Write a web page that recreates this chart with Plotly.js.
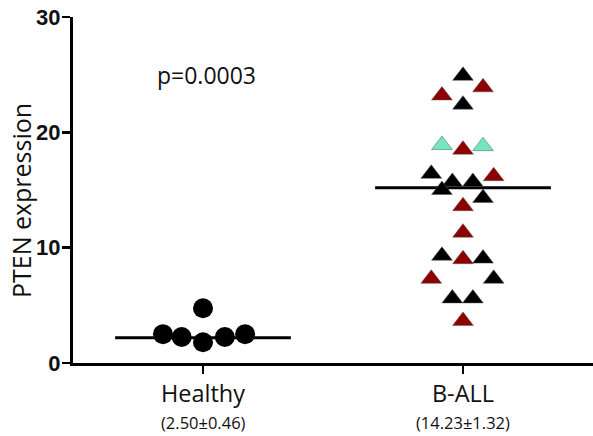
<!DOCTYPE html>
<html>
<head>
<meta charset="utf-8">
<script src="https://cdn.plot.ly/plotly-3.0.1.min.js"></script>
<style>html,body{margin:0;padding:0;background:#fff;}#chart{width:593px;height:436px;}</style>
</head>
<body>
<div id="chart"></div>
<script>
// ---- data ----
const categories = ['Healthy', 'B-ALL'];
const subLabels = ['(2.50±0.46)', '(14.23±1.32)'];
const yTicks = [0, 10, 20, 30];
const yTitle = 'PTEN expression';
const pText = 'p=0.0003';

const healthyValues  = [2.5, 2.25, 4.75, 1.8, 2.25, 2.5];
const healthyJitter  = [-0.154, -0.082, 0, 0, 0.084, 0.162];

const ballBlackValues = [24.9, 22.4, 16.4, 15.7, 15.7, 15.0, 14.3, 9.3, 9.05, 7.3, 5.6, 5.6];
const ballBlackJitter = [0, 0, -0.122, -0.041, 0.038, -0.081, 0.077, -0.081, 0.077, 0.118, -0.041, 0.038];
const ballRedValues   = [23.2, 23.9, 18.5, 16.2, 13.6, 11.3, 9.0, 7.3, 3.65];
const ballRedJitter   = [-0.081, 0.077, 0, 0.118, 0, 0, 0, -0.122, 0];
const ballCyanValues  = [18.9, 18.8];
const ballCyanJitter  = [-0.081, 0.077];

const centreLines = [2.2, 15.2];

// ---- build ----
const at = (i, jit) => jit.map(j => i + j);
const triMarker = (c) => ({symbol: 'triangle-up', size: 18, color: c, line: {color: '#555', width: 0.5}});

const traces = [];
centreLines.forEach((v, i) => {
  traces.push({x: [i - 0.338, i + 0.338], y: [v, v], mode: 'lines',
    line: {color: '#000', width: 3}, hoverinfo: 'skip', showlegend: false});
});
traces.push({x: at(0, healthyJitter), y: healthyValues, mode: 'markers',
  marker: {symbol: 'circle', size: 20, color: '#000'}, showlegend: false});
traces.push({x: at(1, ballBlackJitter), y: ballBlackValues, mode: 'markers', marker: triMarker('#000'), showlegend: false});
traces.push({x: at(1, ballRedJitter), y: ballRedValues, mode: 'markers', marker: triMarker('#8e0000'), showlegend: false});
traces.push({x: at(1, ballCyanJitter), y: ballCyanValues, mode: 'markers', marker: triMarker('#72e6c0'), showlegend: false});

const sans = 'Open Sans, sans-serif';
const annotations = subLabels.map((t, i) => ({
  text: t, x: i, xref: 'x', y: -0.209, yref: 'paper', yanchor: 'bottom', xanchor: 'center',
  showarrow: false, borderpad: 0, font: {family: sans, size: 16.5, color: '#111'}
}));
annotations.push({text: pText, x: 0.015, xref: 'x', y: 25, yref: 'y', showarrow: false,
  xanchor: 'center', yanchor: 'middle', font: {family: sans, size: 23, color: '#111'}});
// y-axis title (rotated), placed where the reference has it
annotations.push({text: yTitle, textangle: -90, x: -0.1, xref: 'paper', y: 0.468, yref: 'paper',
  xanchor: 'center', yanchor: 'middle', showarrow: false, font: {family: sans, size: 25, color: '#111'}});

const layout = {
  width: 593, height: 436,
  margin: {l: 73, r: 0, t: 17, b: 73},
  paper_bgcolor: '#fff', plot_bgcolor: '#fff',
  showlegend: false,
  xaxis: {range: [-0.5, 1.5], tickvals: [0, 1], ticktext: categories,
    showline: true, linewidth: 3, linecolor: '#000', showgrid: false, zeroline: false,
    ticks: 'outside', ticklen: 8, tickwidth: 2.5, tickcolor: '#000', ticklabelstandoff: 0,
    tickfont: {family: sans, size: 23.5, color: '#111'}, fixedrange: true},
  yaxis: {range: [0, 30], tickvals: yTicks, ticktext: yTicks.map(String),
    showline: true, linewidth: 3, linecolor: '#000', showgrid: false, zeroline: false,
    ticks: 'outside', ticklen: 8, tickwidth: 2.5, tickcolor: '#000', ticklabelstandoff: -3,
    tickfont: {family: 'Arial, Liberation Sans, sans-serif', size: 22, color: '#111', weight: 'bold'},
    fixedrange: true},
  annotations: annotations
};

Plotly.newPlot('chart', traces, layout, {displayModeBar: false, staticPlot: true});
</script>
</body>
</html>
